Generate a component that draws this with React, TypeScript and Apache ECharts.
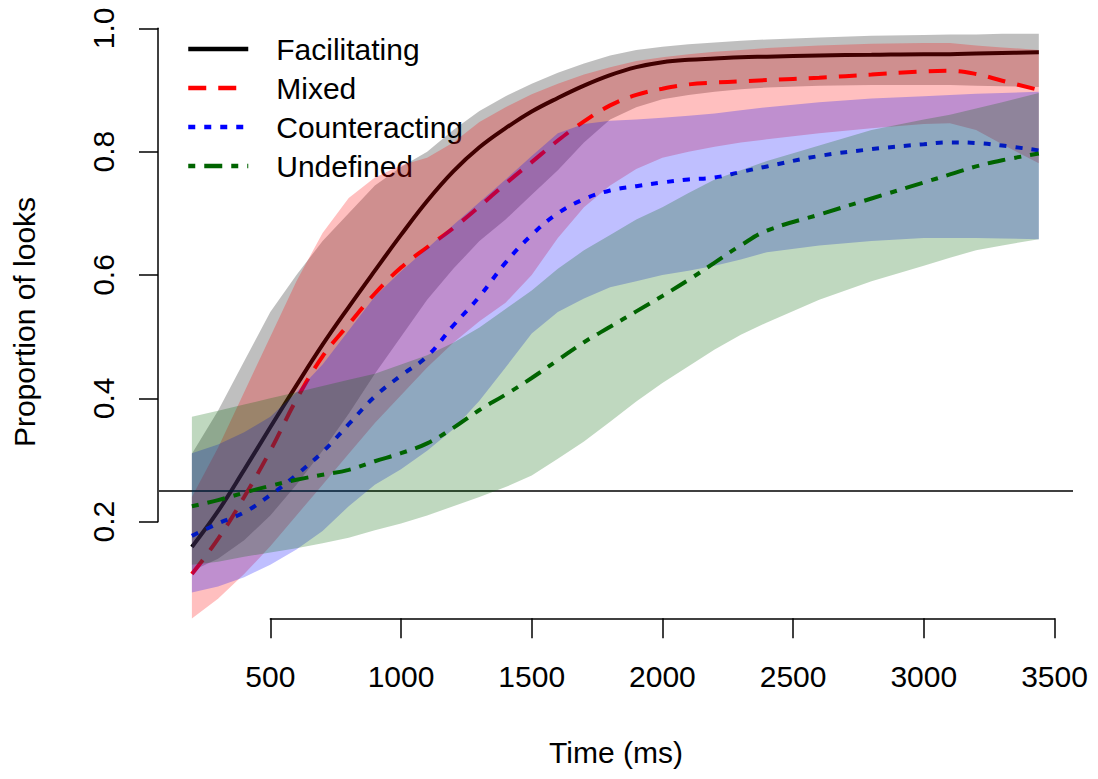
import React, { useEffect, useRef } from 'react';
import * as echarts from 'echarts';

// time points (ms)
const times = [200, 300, 400, 500, 600, 700, 800, 900, 1000, 1100, 1200, 1300, 1400, 1500, 1600, 1700, 1800, 1900, 2000, 2100, 2200, 2300, 2400, 2600, 2800, 3000, 3100, 3200, 3300, 3440];

// Facilitating
const facMean = [0.159, 0.217, 0.284, 0.353, 0.421, 0.487, 0.548, 0.607, 0.665, 0.720, 0.768, 0.807, 0.838, 0.865, 0.887, 0.907, 0.924, 0.937, 0.945, 0.949, 0.951, 0.953, 0.954, 0.956, 0.957, 0.958, 0.958, 0.959, 0.960, 0.961];
const facUpper = [0.31, 0.38, 0.46, 0.54, 0.60, 0.655, 0.70, 0.745, 0.775, 0.80, 0.835, 0.866, 0.89, 0.91, 0.928, 0.943, 0.956, 0.965, 0.97, 0.974, 0.977, 0.98, 0.982, 0.985, 0.988, 0.989, 0.99, 0.99, 0.991, 0.991];
const facLower = [0.12, 0.14, 0.17, 0.21, 0.26, 0.315, 0.375, 0.44, 0.50, 0.56, 0.61, 0.655, 0.69, 0.73, 0.77, 0.815, 0.852, 0.872, 0.885, 0.892, 0.897, 0.901, 0.904, 0.907, 0.908, 0.908, 0.908, 0.907, 0.906, 0.905];

// Mixed
const mixMean = [0.115, 0.172, 0.240, 0.315, 0.398, 0.468, 0.520, 0.570, 0.612, 0.645, 0.676, 0.711, 0.748, 0.783, 0.818, 0.849, 0.875, 0.892, 0.902, 0.909, 0.912, 0.914, 0.916, 0.920, 0.925, 0.930, 0.931, 0.926, 0.915, 0.900];
const mixUpper = [0.24, 0.32, 0.41, 0.50, 0.59, 0.668, 0.725, 0.758, 0.778, 0.79, 0.815, 0.848, 0.872, 0.893, 0.91, 0.925, 0.937, 0.947, 0.953, 0.958, 0.962, 0.965, 0.968, 0.972, 0.975, 0.976, 0.976, 0.972, 0.969, 0.965];
const mixLower = [0.043, 0.075, 0.115, 0.16, 0.21, 0.26, 0.31, 0.36, 0.405, 0.45, 0.49, 0.525, 0.555, 0.60, 0.66, 0.71, 0.745, 0.772, 0.79, 0.80, 0.808, 0.815, 0.82, 0.83, 0.838, 0.845, 0.846, 0.835, 0.812, 0.781];

// Counteracting
const cntMean = [0.177, 0.197, 0.215, 0.243, 0.276, 0.313, 0.358, 0.403, 0.437, 0.468, 0.518, 0.565, 0.62, 0.665, 0.700, 0.723, 0.737, 0.744, 0.750, 0.755, 0.758, 0.767, 0.776, 0.793, 0.804, 0.812, 0.815, 0.814, 0.810, 0.802];
const cntUpper = [0.311, 0.325, 0.345, 0.37, 0.41, 0.455, 0.51, 0.565, 0.606, 0.643, 0.681, 0.718, 0.755, 0.793, 0.83, 0.845, 0.85, 0.852, 0.855, 0.858, 0.862, 0.867, 0.872, 0.88, 0.886, 0.89, 0.892, 0.894, 0.895, 0.897];
const cntLower = [0.085, 0.095, 0.11, 0.13, 0.155, 0.185, 0.225, 0.26, 0.285, 0.315, 0.35, 0.396, 0.45, 0.505, 0.54, 0.562, 0.58, 0.59, 0.60, 0.607, 0.615, 0.625, 0.637, 0.648, 0.655, 0.66, 0.66, 0.66, 0.659, 0.658];

// Undefined
const undMean = [0.225, 0.235, 0.247, 0.258, 0.268, 0.276, 0.284, 0.298, 0.311, 0.327, 0.352, 0.381, 0.406, 0.433, 0.462, 0.491, 0.516, 0.541, 0.566, 0.592, 0.62, 0.648, 0.672, 0.698, 0.724, 0.75, 0.763, 0.776, 0.786, 0.797];
const undUpper = [0.37, 0.38, 0.39, 0.40, 0.41, 0.42, 0.43, 0.44, 0.455, 0.47, 0.49, 0.515, 0.545, 0.575, 0.61, 0.64, 0.665, 0.69, 0.71, 0.733, 0.755, 0.77, 0.785, 0.81, 0.835, 0.852, 0.86, 0.87, 0.88, 0.895];
const undLower = [0.13, 0.135, 0.143, 0.15, 0.157, 0.165, 0.174, 0.186, 0.197, 0.21, 0.225, 0.24, 0.256, 0.275, 0.302, 0.33, 0.362, 0.395, 0.425, 0.452, 0.479, 0.503, 0.523, 0.56, 0.59, 0.615, 0.628, 0.64, 0.648, 0.658];

const legendNames = ['Facilitating', 'Mixed', 'Counteracting', 'Undefined'];
const xTicks = { min: 500, max: 3500, step: 500 };
const yTicks = { min: 0.2, max: 1.0, step: 0.2 };
const chanceLevel = 0.25;
const xTitle = 'Time (ms)';
const yTitle = 'Proportion of looks';

export default function App() {
  const ref = useRef<HTMLDivElement>(null);

  useEffect(() => {
    const chart = echarts.init(ref.current as HTMLDivElement, null, { renderer: 'svg' });
    const FONT = '"Liberation Sans", Arial, Helvetica, sans-serif';
    const LW = 4;

    const pair = (ys: number[]) => times.map((t, i) => [t, ys[i]]);

    const conds = [
      { name: legendNames[0], color: '#000000', band: 'rgba(0,0,0,0.25)', mean: facMean, lo: facLower, hi: facUpper, dash: 'solid' as any },
      { name: legendNames[1], color: '#FF0000', band: 'rgba(255,0,0,0.25)', mean: mixMean, lo: mixLower, hi: mixUpper, dash: [18, 12] },
      { name: legendNames[2], color: '#0000FF', band: 'rgba(0,0,255,0.25)', mean: cntMean, lo: cntLower, hi: cntUpper, dash: [7, 9] },
      { name: legendNames[3], color: '#006400', band: 'rgba(0,100,0,0.25)', mean: undMean, lo: undLower, hi: undUpper, dash: [7, 9, 18, 9] },
    ];

    const series: any[] = [];
    conds.forEach((c, k) => {
      series.push({
        type: 'custom', name: c.name + ' CI', xAxisIndex: 0, yAxisIndex: 0,
        silent: true, z: 2 + 2 * k,
        data: [[times[0], c.lo[0]]],
        renderItem: (_params: any, api: any) => {
          const pts: number[][] = [];
          for (let i = 0; i < times.length; i++) pts.push(api.coord([times[i], c.hi[i]]));
          for (let i = times.length - 1; i >= 0; i--) pts.push(api.coord([times[i], c.lo[i]]));
          return { type: 'polygon', shape: { points: pts }, style: { fill: c.band, stroke: 'none' } };
        },
      });
      const s: any = {
        type: 'line', name: c.name, xAxisIndex: 0, yAxisIndex: 0,
        data: pair(c.mean), symbol: 'none', showSymbol: false, smooth: 0.4,
        lineStyle: { color: c.color, width: LW, type: c.dash },
        itemStyle: { color: c.color, opacity: 0 }, z: 3 + 2 * k,
      };
      if (k === conds.length - 1) {
        s.markLine = {
          silent: true, symbol: 'none', label: { show: false },
          lineStyle: { color: '#000', width: 1.5, type: 'solid' },
          data: [{ yAxis: chanceLevel }],
        };
      }
      series.push(s);
    });

    const axisLineStyle = { color: '#000', width: 1.5 };

    chart.setOption({
      animation: false,
      backgroundColor: '#ffffff',
      grid: [
        { left: 159, right: 25, top: 28.3, bottom: 134 },
        { left: 270.3, right: 43.5, top: 600, bottom: 160.7 },
        { left: 158, width: 10, top: 28.3, bottom: 257.3 },
      ],
      xAxis: [
        { gridIndex: 0, type: 'value', min: 74.2, max: 3570.8, show: false },
        {
          gridIndex: 1, type: 'value', min: xTicks.min, max: xTicks.max, interval: xTicks.step,
          axisLine: { show: true, onZero: false, lineStyle: axisLineStyle },
          axisTick: { show: true, length: 20, lineStyle: axisLineStyle },
          axisLabel: {
            fontSize: 30, color: '#000', fontFamily: FONT, margin: 43, showMinLabel: true, showMaxLabel: true,
            formatter: (v: number) => String(v),
          },
          splitLine: { show: false },
        },
        { gridIndex: 2, type: 'value', min: 0, max: 1, show: false },
      ],
      yAxis: [
        { gridIndex: 0, type: 'value', min: 0, max: 1, show: false },
        { gridIndex: 1, type: 'value', min: 0, max: 1, show: false },
        {
          gridIndex: 2, type: 'value', min: yTicks.min, max: yTicks.max, interval: yTicks.step,
          axisLine: { show: true, onZero: false, lineStyle: axisLineStyle },
          axisTick: { show: true, length: 19, lineStyle: axisLineStyle },
          axisLabel: {
            rotate: 90, fontSize: 30, color: '#000', fontFamily: FONT, margin: 40,
            showMinLabel: true, showMaxLabel: true,
            formatter: (v: number) => v.toFixed(1),
          },
          splitLine: { show: false },
        },
      ],
      legend: {
        data: conds.map((c) => ({
          name: c.name,
          itemStyle: { opacity: 0 },
          lineStyle: { color: c.color, width: 4.5, type: c.dash, opacity: 1 },
        })),
        orient: 'vertical', left: 186, top: 34, padding: 0,
        itemWidth: 60, itemHeight: 14, itemGap: 9, selectedMode: false,
        textStyle: { fontSize: 30, color: '#000', fontFamily: FONT, lineHeight: 30, padding: [0, 0, 0, 23] },
      },
      graphic: [
        {
          type: 'text', x: 616, y: 752,
          style: { text: xTitle, fontSize: 30, fontFamily: FONT, fill: '#000', align: 'center', verticalAlign: 'middle' },
        },
        {
          type: 'text', x: 24.5, y: 322, rotation: Math.PI / 2,
          style: { text: yTitle, fontSize: 30, fontFamily: FONT, fill: '#000', align: 'center', verticalAlign: 'middle' },
        },
      ],
      series,
    });

    return () => chart.dispose();
  }, []);

  return <div ref={ref} style={{ position: 'fixed', left: 0, top: 0, width: 1098, height: 779, background: '#fff' }} />;
}
